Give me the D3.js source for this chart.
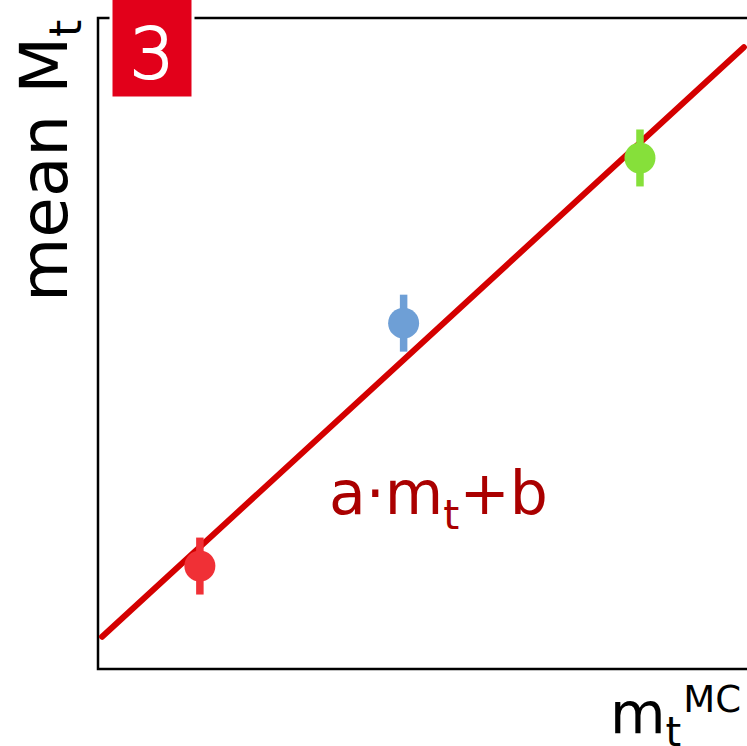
<!DOCTYPE html>
<html>
<head>
<meta charset="utf-8">
<script src="https://cdn.jsdelivr.net/npm/d3@7"></script>
<style>
  body { margin: 0; background: #fff; }
  svg { display: block; font-family: "DejaVu Sans", sans-serif; }
</style>
</head>
<body>
<div id="chart"></div>
<script>
var width = 747, height = 746,
    margin = {top: 18, right: -3, bottom: 77, left: 98};

// measured points: generator-level mass vs. mean fitted mass
var mtMC = [166.5, 171.5, 177.3];
var meanMt = [166.53, 172.5, 176.56];
var errMt = [0.7, 0.7, 0.7];
var colors = ["#f03036", "#6e9fd6", "#86e03a"];

// linear calibration a*m + b
var fitA = 0.92, fitB = 13.82;
var fitRange = [164.1, 179.85];

var x = d3.scaleLinear()
    .domain([164, 180])
    .range([margin.left, width - margin.right]);

var y = d3.scaleLinear()
    .domain([164, 180])
    .range([height - margin.bottom, margin.top]);

var svg = d3.select("#chart").append("svg")
    .attr("width", width)
    .attr("height", height);

// frame
svg.append("rect")
    .attr("x", x(164))
    .attr("y", y(180))
    .attr("width", x(180) - x(164))
    .attr("height", y(164) - y(180))
    .attr("fill", "none")
    .attr("stroke", "#000")
    .attr("stroke-width", 2.5);

// fit line
svg.append("line")
    .attr("x1", x(fitRange[0]))
    .attr("y1", y(fitA * fitRange[0] + fitB))
    .attr("x2", x(fitRange[1]))
    .attr("y2", y(fitA * fitRange[1] + fitB))
    .attr("stroke", "#d40000")
    .attr("stroke-width", 6)
    .attr("stroke-linecap", "round");

var pts = svg.append("g").selectAll("g")
    .data(mtMC.map(function(d, i) { return {x: d, y: meanMt[i], e: errMt[i], c: colors[i]}; }))
    .enter().append("g");

pts.append("line")
    .attr("x1", function(d) { return x(d.x); })
    .attr("x2", function(d) { return x(d.x); })
    .attr("y1", function(d) { return y(d.y - d.e); })
    .attr("y2", function(d) { return y(d.y + d.e); })
    .attr("stroke", function(d) { return d.c; })
    .attr("stroke-width", 7.5);

pts.append("circle")
    .attr("cx", function(d) { return x(d.x); })
    .attr("cy", function(d) { return y(d.y); })
    .attr("r", 15.5)
    .attr("fill", function(d) { return d.c; });

// formula label
var f = svg.append("text")
    .attr("x", 329)
    .attr("y", 514)
    .attr("fill", "#aa0000")
    .attr("font-size", 60);
f.append("tspan").text("a\u00b7m");
f.append("tspan").attr("font-size", 41).attr("dy", 15).text("t");
f.append("tspan").attr("dy", -15).text("+b");

// panel number box
svg.append("rect")
    .attr("x", 111)
    .attr("y", -4)
    .attr("width", 82)
    .attr("height", 102)
    .attr("fill", "#e2001a")
    .attr("stroke", "#fff")
    .attr("stroke-width", 3);

svg.append("text")
    .attr("x", 152)
    .attr("y", 78)
    .attr("text-anchor", "middle")
    .attr("fill", "#fff")
    .attr("stroke", "#fff")
    .attr("stroke-width", 2.2)
    .attr("font-size", 70)
    .attr("font-weight", 200)
    .text("3");

// axis titles
var yl = svg.append("text")
    .attr("transform", "translate(67,302) rotate(-90)")
    .attr("fill", "#000")
    .attr("font-size", 66);
yl.append("tspan").text("mean M");
yl.append("tspan").attr("font-size", 44).attr("dy", 14).text("t");

var xl = svg.append("text")
    .attr("x", 610)
    .attr("y", 733)
    .attr("fill", "#000")
    .attr("font-size", 57);
xl.append("tspan").text("m");
xl.append("tspan").attr("font-size", 40).attr("dy", 13).text("t");
xl.append("tspan").attr("font-size", 37).attr("dy", -34).attr("dx", 2).text("MC");
</script>
</body>
</html>
